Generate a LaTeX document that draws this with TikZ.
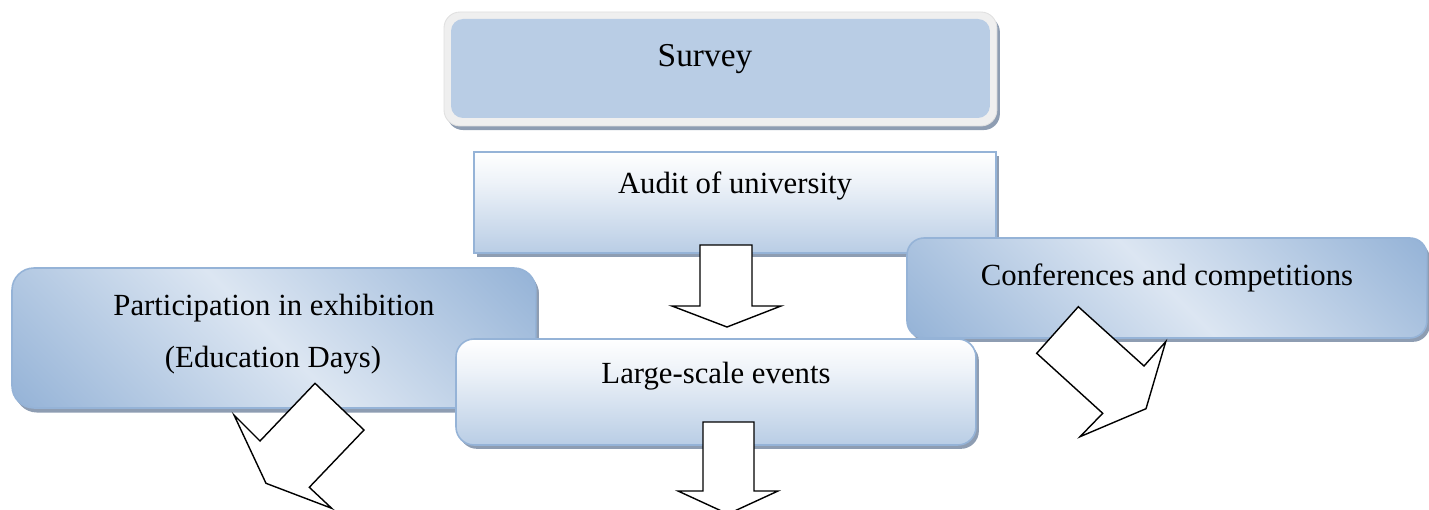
\documentclass[tikz,border=0pt]{standalone}
\usepackage{fontspec}
\setmainfont{Liberation Serif}
\usetikzlibrary{calc,shadows}

\definecolor{bord}{HTML}{95B3D7}
\definecolor{sblue}{HTML}{B9CDE5}
\definecolor{ltb}{HTML}{DCE6F2}
\definecolor{shad}{HTML}{8E9DB2}
\definecolor{frm}{HTML}{EFEFEF}
\definecolor{frmline}{HTML}{E0E0E0}

\pgfdeclareverticalshading{vgrad}{100bp}{color(0bp)=(sblue); color(25bp)=(sblue); color(60bp)=(ltb!50!white); color(75bp)=(white); color(100bp)=(white)}
\pgfdeclareverticalshading{dband}{100bp}{color(0bp)=(bord); color(15bp)=(bord); color(50bp)=(ltb); color(85bp)=(bord); color(100bp)=(bord)}

\tikzset{
  boxbase/.style={anchor=north west, inner sep=0pt, outer sep=0pt, draw=bord, line width=0.9pt},
  shadowed/.style={drop shadow={shadow xshift=1.7pt, shadow yshift=-2.2pt, fill=shad, opacity=1}},
  vbox/.style={boxbase, shading=vgrad, shadowed},
  dbox/.style={boxbase, shading=dband, shading angle=-45, shadowed},
  txt/.style={anchor=base, inner sep=0pt, font=\fontsize{17.5}{21}\selectfont},
  arr/.style={draw=black, fill=white, line width=0.8pt, line join=miter},
}

\begin{document}
\begin{tikzpicture}[x=0.02cm, y=-0.02cm]
\useasboundingbox (0,0) rectangle (1429,510);
\clip (0,0) rectangle (1429,510);

% Survey
\node[anchor=north west, inner sep=0pt, outer sep=0pt, fill=frm, draw=frmline, line width=0.5pt,
      rounded corners=0.32cm, minimum width=11.06cm, minimum height=2.28cm,
      drop shadow={shadow xshift=1.7pt, shadow yshift=-2.3pt, fill=shad, opacity=1}] (survey) at (444,12) {};
\fill[sblue, rounded corners=0.24cm] ($(survey.north west)+(7,7)$) rectangle ($(survey.south east)+(-7,-8)$);
\node[txt, font=\fontsize{19}{22}\selectfont] (tsurvey) at (705,67) {Survey};

% Audit
\node[vbox, minimum width=10.44cm, minimum height=2.02cm] (audit) at (474,152) {};
\node[txt] (taudit) at (735,193) {Audit of university};

% Conferences
\node[dbox, rounded corners=0.34cm, minimum width=10.40cm, minimum height=2.0cm] (conf) at (907,238) {};
\node[txt] (tconf) at (1167,285) {Conferences and competitions};

% Participation
\node[dbox, rounded corners=0.44cm, minimum width=10.48cm, minimum height=2.8cm,
      drop shadow={shadow xshift=1.7pt, shadow yshift=-2.6pt, fill=shad, opacity=1}] (part) at (12,268) {};
\node[txt] (tpart1) at (274,315) {Participation in exhibition};
\node[txt] (tpart2) at (273,367) {(Education Days)};

% Large-scale events
\node[vbox, rounded corners=0.36cm, minimum width=10.4cm, minimum height=2.12cm] (large) at (456,339) {};
\node[txt] (tlarge) at (716,383) {Large-scale events};

% Block arrows
\draw[arr] (700,245) -- (752,245) -- (752,306) -- (781,306) -- (727,327) -- (672,306) -- (700,306) -- cycle;
\draw[arr] (703,422) -- (754,422) -- (754,491) -- (778,491) -- (728,514) -- (678,491) -- (703,491) -- cycle;
\draw[arr] (315,383.3) -- (364,430) -- (309.3,487.3) -- (331.7,508.3) -- (266,483.3) -- (234,415) -- (260,441) -- cycle;
\draw[arr] (1078.3,306.7) -- (1144,366) -- (1165.7,341.7) -- (1146,408.7) -- (1080,436.7) -- (1102.7,413.3) -- (1036.7,353.3) -- cycle;
\end{tikzpicture}
\end{document}
